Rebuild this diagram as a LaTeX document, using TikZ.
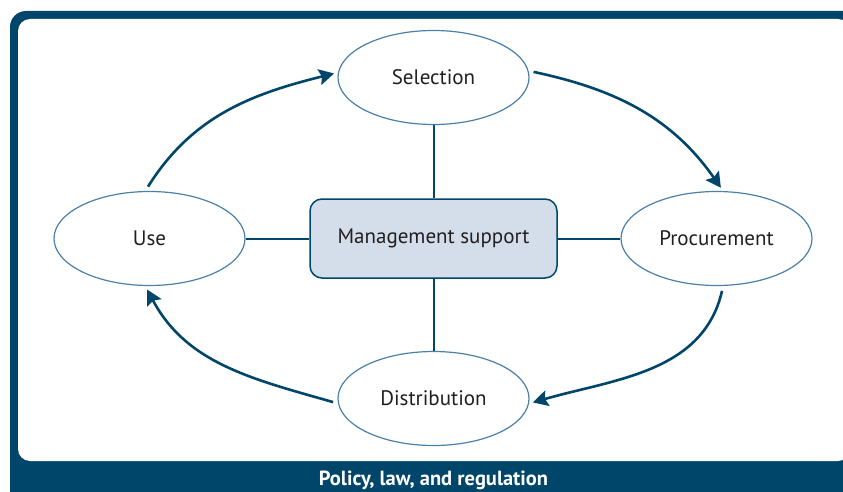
\documentclass[tikz,border=0pt]{standalone}
\usepackage{fontspec}
\setmainfont{PT Sans}
\usetikzlibrary{shapes.geometric,arrows.meta}
\definecolor{navy}{HTML}{00456A}
\definecolor{rim}{HTML}{4A80AA}
\definecolor{pale}{HTML}{D3DEEA}
\definecolor{ink}{HTML}{231F20}
\begin{document}
\begin{tikzpicture}
          [x = 1pt, y = 1pt, >= {Stealth[length = 15pt, width = 16pt, inset = 2.5pt]},
           stage/.style = {ellipse, draw = rim, line width = 1.2pt, fill = white,
             minimum width = 191pt, minimum height = 94pt, inner sep = 0pt,
             text = ink, font = \fontsize{21}{24}\selectfont},
           cycle/.style = {->, navy, line width = 2.6pt, shorten <= 5pt, shorten >= 4pt},
           spoke/.style = {navy, line width = 2pt}]
          \clip (0,0) rectangle (843,491);
          \fill[navy, rounded corners = 16pt] (10,-40) rectangle (890,480);
          \fill[white, rounded corners = 12pt] (18,30) rectangle (850,472);
          \node (core) [draw = navy, line width = 1.5pt, fill = pale, rounded corners = 12pt,
            minimum width = 247pt, minimum height = 79pt, text = ink,
            font = \fontsize{21}{24}\selectfont] at (433.5,252.5) {Management support};
          \node (sel) [stage] at (433.5,413.5) {Selection};
          \node (use) [stage] at (149.5,252.5) {Use};
          \node (proc) [stage] at (716.5,252.5) {Procurement};
          \node (dist) [stage] at (433.5,92.5) {Distribution};
          \node (law) [anchor = base, text = white, font = \fontsize{20.5}{24}\selectfont\bfseries]
            at (433.5,6) {Policy, law, and regulation};
          % spokes from the centre box
          \draw[spoke] (sel) -- (core);
          \draw[spoke] (core) -- (dist);
          \draw[spoke] (use) -- (core);
          \draw[spoke] (core) -- (proc);
          % the cycle
          \draw[cycle] (use.95) to[out = 58, in = 194] (sel.177);
          \draw[cycle] (sel.4) to[out = -12, in = 125] (proc.82);
          \draw[cycle] (proc.278) to[out = -103, in = 16] (dist.357);
          \draw[cycle] (dist.183) to[out = 164, in = -62] (use.265);
        \end{tikzpicture}
\end{document}
